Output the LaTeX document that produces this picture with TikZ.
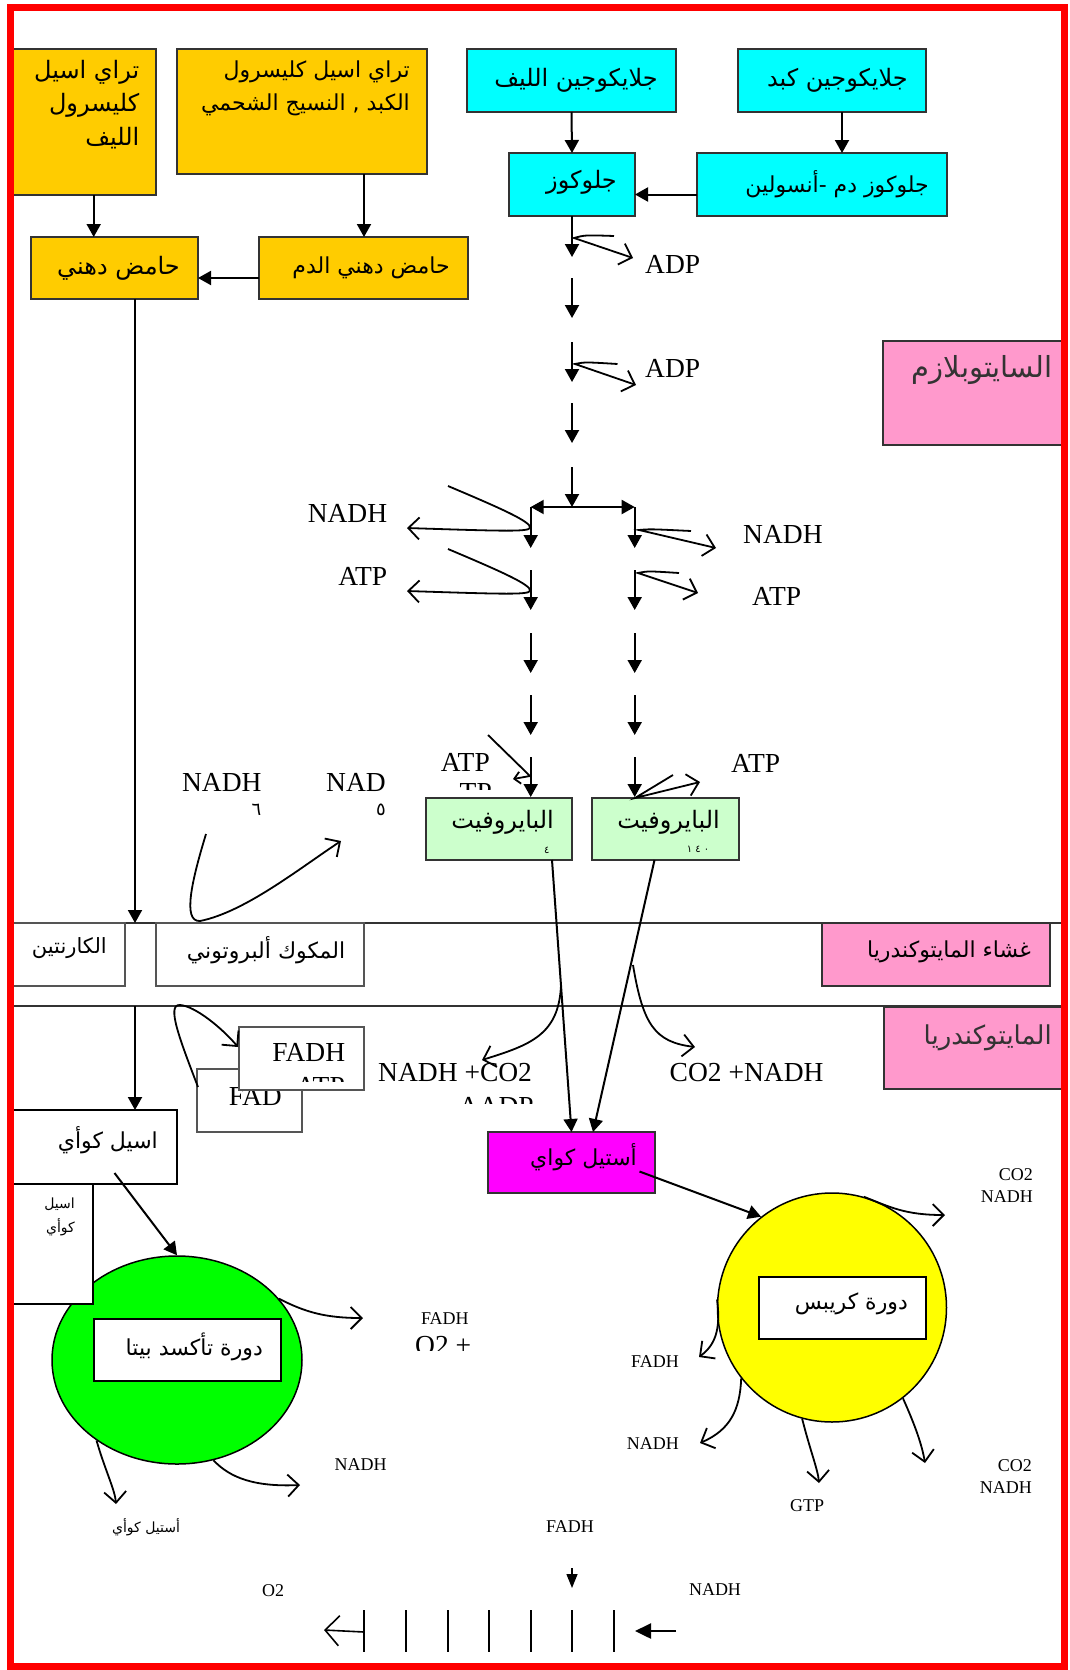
\documentclass[tikz,border=0pt]{standalone}
\usepackage{fontspec}
\setmainfont{Liberation Serif}
\newfontfamily\arabicfont[Script=Arabic]{DejaVu Sans}
\TeXXeTstate=1
\usetikzlibrary{arrows.meta,shapes.geometric}

\definecolor{fatorange}{HTML}{FFCC00}
\definecolor{sugcyan}{HTML}{00FFFF}
\definecolor{pyrgreen}{HTML}{CCFFCC}
\definecolor{tagpink}{HTML}{FF99CC}
\definecolor{acetylmag}{HTML}{FF00FF}
\definecolor{betagreen}{HTML}{00FF00}
\definecolor{krebsyellow}{HTML}{FFFF00}
\definecolor{boxgray}{HTML}{333333}
\definecolor{thingray}{HTML}{555555}

\newcommand\artext[1]{{\arabicfont\beginR #1\endR}}
\newcommand\latbig{\fontsize{27.5}{30}\selectfont}
\newcommand\latsmall{\fontsize{18}{22}\selectfont}
\newcommand\arbox{\fontsize{22}{26}\selectfont}
\newcommand\arwide{\fontsize{24}{28}\selectfont}
\newcommand\arsmall{\fontsize{14}{24}\selectfont}
\newcommand\ardigit{\fontsize{18}{20}\selectfont}
\newcommand\artiny{\fontsize{10}{11}\selectfont}

\tikzset{
  box/.style={draw=boxgray, line width=1.8pt, inner sep=0pt, outer sep=0pt, anchor=north west},
  fatbox/.style={box, fill=fatorange},
  sugbox/.style={box, fill=sugcyan},
  pyrbox/.style={box, fill=pyrgreen},
  tagbox/.style={box, fill=tagpink},
  whitebox/.style={box, draw=black, fill=white},
  greybox/.style={box, draw=thingray, line width=1.4pt, fill=white},
  boxtext/.style={font=\arbox, inner sep=0pt, anchor=east},
  tagtext/.style={inner sep=0pt, anchor=east, text=boxgray},
  lbl/.style={font=\latbig, inner sep=0pt},
  lblsmall/.style={font=\latsmall, inner sep=0pt},
  flow/.style={line width=2pt, -{Triangle[length=13pt,width=14pt]}},
  yield/.style={line width=1.8pt, -{Straight Barb[length=11pt,width=22pt]}},
  membrane/.style={draw=boxgray, line width=1.3pt},
}

\begin{document}
\begin{tikzpicture}[x=1pt, y=-1pt]
  \useasboundingbox (0,0) rectangle (1070,1670);

  % Membrane lines
  \draw[membrane] (10,923) -- (1065,923);
  \draw[membrane] (10,1006) -- (1065,1006);

  % Fat sources
  \node[fatbox, minimum width=146pt, minimum height=146pt] (tagFiber) at (10,49) {};
  \node[fatbox, minimum width=250pt, minimum height=125pt] (tagLiver) at (177,49) {};
  \node[fatbox, minimum width=167pt, minimum height=62pt] (faMuscle) at (31,237) {};
  \node[fatbox, minimum width=209pt, minimum height=62pt] (faBlood) at (259,237) {};
  \node[boxtext, font=\arwide] (tagFiberT1) at (139.5,72) {\artext{تراي اسيل}};
  \node[boxtext, font=\arwide] (tagFiberT2) at (139.5,105) {\artext{كليسرول}};
  \node[boxtext, font=\arwide] (tagFiberT3) at (139.5,138) {\artext{الليف}};
  \node[boxtext] (tagLiverT1) at (410,72) {\artext{تراي اسيل كليسرول}};
  \node[boxtext] (tagLiverT2) at (410,105) {\artext{الكبد , النسيج الشحمي}};
  \node[boxtext, font=\arwide] (faMuscleT) at ([xshift=-18pt]faMuscle.east) {\artext{حامض دهني}};
  \node[boxtext] (faBloodT) at ([xshift=-18pt]faBlood.east) {\artext{حامض دهني الدم}};

  % Sugar sources
  \node[sugbox, minimum width=209pt, minimum height=63pt] (glyFiber) at (467,49) {};
  \node[sugbox, minimum width=188pt, minimum height=63pt] (glyLiver) at (738,49) {};
  \node[sugbox, minimum width=126pt, minimum height=63pt] (glucose) at (509,153) {};
  \node[sugbox, minimum width=250pt, minimum height=63pt] (bloodGlu) at (697,153) {};
  \node[boxtext, font=\arwide] (glyFiberT) at ([xshift=-18pt]glyFiber.east) {\artext{جلايكوجين الليف}};
  \node[boxtext, font=\arwide] (glyLiverT) at ([xshift=-18pt]glyLiver.east) {\artext{جلايكوجين كبد}};
  \node[boxtext, font=\arwide] (glucoseT) at ([xshift=-18pt,yshift=2pt]glucose.east) {\artext{جلوكوز}};
  \node[boxtext] (bloodGluT) at ([xshift=-18pt]bloodGlu.east) {\artext{جلوكوز دم -أنسولين}};

  % Source arrows
  \coordinate (tfOut) at ([xshift=10.7pt]tagFiber.south);
  \coordinate (tlOut) at ([xshift=62pt]tagLiver.south);
  \coordinate (glOut) at ([xshift=10pt]glyLiver.south);
  \coordinate (fbOut) at ([yshift=-10pt]faBlood.west);
  \coordinate (bgOut) at ([yshift=-10pt]bloodGlu.west);
  \draw[flow] (tfOut) -- (tfOut |- faMuscle.north);
  \draw[flow] (tlOut) -- (tlOut |- faBlood.north);
  \draw[flow] (fbOut) -- (fbOut -| faMuscle.east);
  \draw[flow] (glyFiber.south) -- (glucose.north);
  \draw[flow] (glOut) -- (glOut |- bloodGlu.north);
  \draw[flow] (bgOut) -- (bgOut -| glucose.east);

  % Cytoplasm tag
  \node[tagbox, minimum width=179pt, minimum height=104pt] (cytoTag) at (883,341) {};
  \node[tagtext, font=\fontsize{29}{32}\selectfont] (cytoTagT) at (1052.7,370) {\artext{السايتوبلازم}};

  % Glycolysis chain
  \draw[flow] (glucose.south) -- ++(0,41) coordinate (gly0);
  \foreach \y [count=\i] in {278,342,403,467}
    \draw[flow] (572,\y) coordinate (gly\i) -- ++(0,40);
  \draw[line width=2pt, {Triangle[length=13pt,width=14pt]}-{Triangle[length=13pt,width=14pt]}]
    (530.7,507) coordinate (splitL) -- (634.7,507) coordinate (splitR);
  \draw[flow] (splitL) -- ++(0,41);
  \draw[flow] (splitR) -- ++(0,41);
  \foreach \y in {570,633,695,757} {
    \draw[flow] (530.7,\y) -- ++(0,40);
    \draw[flow] (634.7,\y) -- ++(0,40);
  }

  % Side products of glycolysis
  \draw[yield] (614,236) .. controls (585,235) .. (574,238) -- (633,258);
  \node[lbl, anchor=west] (adp1) at (645,264) {ADP};
  \draw[yield] (617.5,364) .. controls (585,362) .. (575,364) -- (636,385);
  \node[lbl, anchor=west] (adp2) at (645,368) {ADP};
  \draw[yield] (448,486) .. controls (500,508) and (532,522) .. (530,528) .. controls (528,532) and (500,531) .. (407,528);
  \node[lbl, anchor=east] (nadhL) at (387.4,513) {NADH};
  \draw[yield] (448,549) .. controls (500,571) and (532,585) .. (530,591) .. controls (528,595) and (500,594) .. (407,591);
  \node[lbl, anchor=east] (atpL) at (387.4,576) {ATP};
  \draw[yield] (691,531) .. controls (650,529) .. (639,530) -- (716,548);
  \node[lbl, anchor=west] (nadhR) at (743,534) {NADH};
  \draw[yield] (679,573) .. controls (648,571) .. (638,573) -- (698,593);
  \node[lbl, anchor=west] (atpR) at (752,596) {ATP};

  % Pyruvate
  \node[pyrbox, minimum width=146pt, minimum height=62pt] (pyrLeft) at (426,798) {};
  \node[pyrbox, minimum width=147pt, minimum height=62pt] (pyrRight) at (592,798) {};
  \node[boxtext, font=\arwide] (pyrLeftT) at ([xshift=-18pt,yshift=7pt]pyrLeft.east) {\artext{البايروفيت}};
  \node[boxtext, font=\arwide] (pyrRightT) at ([xshift=-19pt,yshift=7pt]pyrRight.east) {\artext{البايروفيت}};
  \node[font=\artiny, inner sep=0pt] (pyrLeftN) at (546.7,850) {\artext{٤}};
  \node[font=\artiny, inner sep=0pt] (pyrRightN) at (698,849) {\artext{٠ ٤ ١}};
  \draw[line width=1.8pt, -{Straight Barb[length=6pt,width=12pt]}] (488,735) -- (530,776) -- (513,779);
  \node[lbl, anchor=east] (atpPl) at (490,762) {ATP};
  \begin{scope}
    \clip (458,780) rectangle (500,789);
    \node[lbl, anchor=north east] (atpPl2) at (492,783) {ATP};
  \end{scope}
  \draw[yield] (673,775) -- (635,798) -- (700,782);
  \node[lbl, anchor=west] (atpPr) at (731,763) {ATP};

  % Shuttle NADH / NAD
  \node[lbl, anchor=east] (shNadh) at (261.7,782) {NADH};
  \node[font=\ardigit, inner sep=0pt] (shNadhN) at (256.5,810) {\artext{٦}};
  \node[lbl, anchor=east] (shNad) at (386,782) {NAD};
  \node[font=\ardigit, inner sep=0pt] (shNadN) at (381,810) {\artext{٥}};
  \draw[yield] (206,834) .. controls (192,880) and (182,922) .. (200,921) .. controls (245,912) and (300,868) .. (341,841);

  % Membrane boxes
  \node[greybox, minimum width=115pt, minimum height=63pt] (carnitine) at (10,923) {};
  \node[greybox, minimum width=208pt, minimum height=63pt] (shuttle) at (156,923) {};
  \node[tagbox, minimum width=228pt, minimum height=63pt] (memTag) at (822,923) {};
  \node[boxtext, font=\fontsize{21}{24}\selectfont] (carnitineT) at ([xshift=-18pt,yshift=6pt]carnitine.east) {\artext{الكارنتين}};
  \node[boxtext] (shuttleT) at ([xshift=-18.6pt,yshift=4pt]shuttle.east) {\artext{المكوك ألبروتوني}};
  \node[boxtext] (memTagT) at ([xshift=-19pt,yshift=3pt]memTag.east) {\artext{غشاء المايتوكندريا}};
  \node[tagbox, minimum width=180pt, minimum height=82pt] (mitoTag) at (884,1007) {};
  \node[tagtext, font=\fontsize{26}{30}\selectfont] (mitoTagT) at (1052,1038) {\artext{المايتوكندريا}};

  % Fatty acid into mitochondria
  \coordinate (carnIn) at (135,923);
  \coordinate (acylIn) at (135,1006);
  \draw[flow] (carnIn |- faMuscle.south) -- (carnIn);

  % FAD / FADH
  \node[greybox, minimum width=105pt, minimum height=63pt] (fadBox) at (197,1069) {};
  \node[lbl, anchor=base east] (fadT) at (282,1105) {FAD};
  \node[greybox, minimum width=125pt, minimum height=63pt] (fadhBox) at (239,1027) {};
  \node[lbl, anchor=base east] (fadhT) at (345.4,1061.7) {FADH};
  \begin{scope}
    \clip (300,1070) rectangle (362,1081);
    \node[lbl, anchor=base east] (fadhAtp) at (345,1095) {ATP};
  \end{scope}
  \draw[yield] (198,1087) .. controls (180,1040) and (166,1004) .. (180,1005) .. controls (195,1006) and (222,1028) .. (238,1047);

  % Pyruvate to acetyl CoA
  \node[box, fill=acetylmag, minimum width=167pt, minimum height=61pt] (acetyl) at (488,1132) {};
  \node[boxtext] (acetylT) at ([xshift=-18pt,yshift=5pt]acetyl.east) {\artext{أستيل كواي}};
  \coordinate (plOut) at ([xshift=53pt]pyrLeft.south);
  \coordinate (prOut) at ([xshift=-11pt]pyrRight.south);
  \coordinate (acIn) at ([xshift=21.5pt]acetyl.north);
  \draw[flow] (plOut) -- (acetyl.north);
  \draw[flow] (prOut) -- (acIn);
  \draw[yield] (561,985) .. controls (559,1035) and (530,1045) .. (482,1060);
  \draw[yield] (633,965) .. controls (643,1025) and (655,1042) .. (695,1047);
  \node[lbl, anchor=west] (nadhCo2) at (378,1072.4) {NADH +CO2};
  \begin{scope}
    \clip (440,1090) rectangle (540,1103);
    \node[lbl, anchor=north east] (aadp) at (534,1097) {AADP};
  \end{scope}
  \node[lbl, anchor=west] (co2Nadh) at (669.5,1073) {CO2 +NADH};

  % Beta oxidation
  \node[ellipse, draw=black, line width=1.5pt, fill=betagreen, minimum width=250pt, minimum height=208pt, inner sep=0pt] (betaCycle) at (177,1360) {};
  \node[whitebox, minimum width=167pt, minimum height=74pt] (acylBox) at (10,1110) {};
  \node[whitebox, minimum width=83pt, minimum height=120pt] (acylSmall) at (10,1184) {};
  \node[whitebox, minimum width=187pt, minimum height=62pt] (betaBox) at (94,1319) {};
  \node[boxtext] (acylBoxT) at ([xshift=-19pt,yshift=7pt]acylBox.east) {\artext{اسيل كوأي}};
  \node[font=\arsmall, inner sep=0pt, anchor=east] (acylSmallT1) at (75,1204) {\artext{اسيل}};
  \node[font=\arsmall, inner sep=0pt, anchor=east] (acylSmallT2) at (75,1227) {\artext{كوأي}};
  \node[boxtext] (betaBoxT) at ([xshift=-18pt,yshift=3pt]betaBox.east) {\artext{دورة تأكسد بيتا}};
  \draw[flow] (acylIn) -- (acylIn |- acylBox.north);
  \draw[flow] ([xshift=21pt,yshift=-26pt]acylBox.center) -- (betaCycle.north);
  \draw[yield] (betaCycle.31) .. controls (305,1312) and (325,1318) .. (363,1318);
  \node[lblsmall, anchor=west] (betaFadh) at (420.8,1319) {FADH};
  \begin{scope}
    \clip (400,1330) rectangle (480,1350);
    \node[lbl, anchor=north west] (betaO2) at (415,1336) {O2 +};
  \end{scope}
  \draw[yield] (betaCycle.-70) .. controls (230,1478) and (255,1487) .. (300,1485);
  \node[lblsmall, anchor=west] (betaNadh) at (334.5,1465) {NADH};
  \draw[yield] (betaCycle.-135) .. controls (105,1470) and (115,1490) .. (116,1504);
  \node[font=\arsmall, inner sep=0pt] (betaAcetyl) at (146,1527) {\artext{أستيل كوأي}};

  % Krebs cycle
  \node[circle, draw=black, line width=1.5pt, fill=krebsyellow, minimum size=229pt, inner sep=0pt] (krebs) at (832,1307.5) {};
  \node[whitebox, minimum width=167pt, minimum height=62pt] (krebsBox) at (759,1277) {};
  \node[boxtext] (krebsBoxT) at ([xshift=-18pt,yshift=4pt]krebsBox.east) {\artext{دورة كريبس}};
  \draw[flow] ([xshift=68pt,yshift=-9pt]acetyl.center) -- (krebs.128);
  \draw[yield] (krebs.74) .. controls (890,1207) and (905,1215) .. (945,1215);
  \node[lblsmall, anchor=east, align=right] (krebsTop) at (1033,1186) {CO2\\NADH};
  \draw[yield] (krebs.176) .. controls (721,1330) and (715,1345) .. (699,1357);
  \node[lblsmall, anchor=east] (krebsFadh) at (679,1362) {FADH};
  \draw[yield] (krebs.-142) .. controls (740,1410) and (730,1430) .. (700,1443);
  \node[lblsmall, anchor=east] (krebsNadh) at (679,1444) {NADH};
  \draw[yield] (krebs.-105) .. controls (810,1450) and (818,1470) .. (819,1483);
  \node[lblsmall] (krebsGtp) at (807,1506) {GTP};
  \draw[yield] (krebs.-52) .. controls (915,1425) and (922,1445) .. (925,1463);
  \node[lblsmall, anchor=east, align=right] (krebsLow) at (1032,1477) {CO2\\NADH};

  % Electron transport chain
  \node[lblsmall] (etcFadh) at (570,1527) {FADH};
  \draw[line width=1.4pt, -{Triangle[length=14pt,width=11pt]}] (572,1568) coordinate (etcIn) -- (572,1588);
  \node[lblsmall] (etcO2) at (273,1591) {O2};
  \node[lblsmall] (etcNadh) at (715,1590) {NADH};
  \foreach \x [count=\i] in {364,406,448,489,531,572,614}
    \draw[line width=1.3pt] (\x,1610) coordinate (etc\i) -- (\x,1652);
  \draw[line width=1.6pt, -{Straight Barb[length=14pt,width=30pt]}] (364,1632) -- (324,1630);
  \draw[line width=2.4pt, -{Triangle[length=16pt,width=15pt]}] (676,1631) -- (635,1631);

  % Outer frame
  \draw[red, line width=7pt] (10,8) rectangle (1064.5,1666);
\end{tikzpicture}
\end{document}
